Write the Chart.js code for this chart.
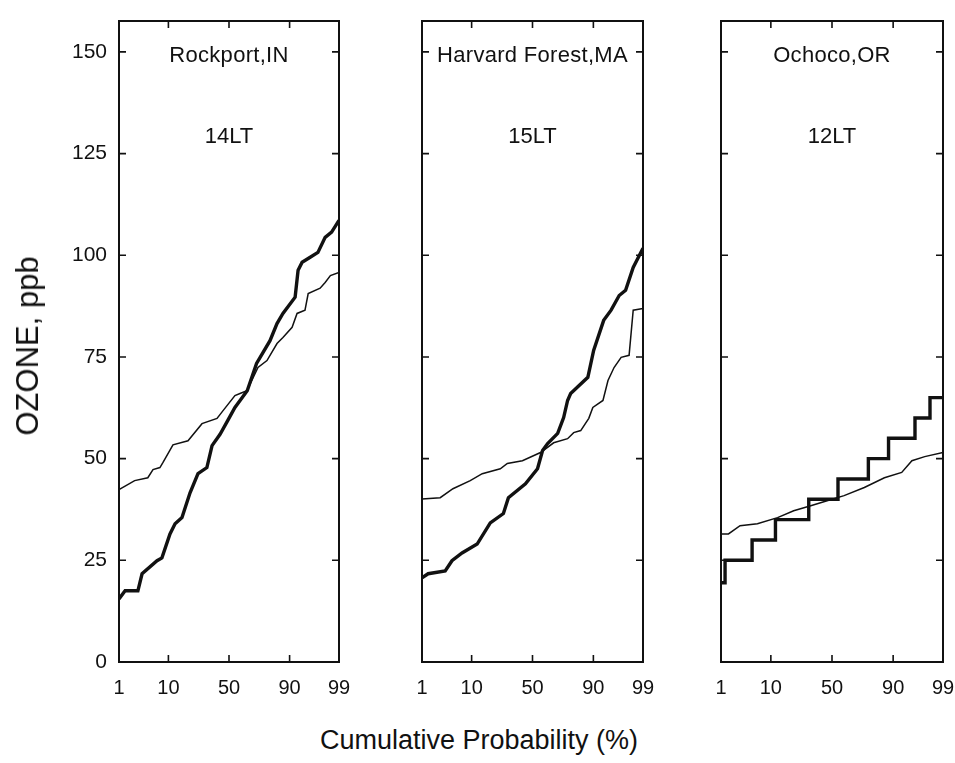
<!DOCTYPE html>
<html>
<head>
<meta charset="utf-8">
<title>Ozone cumulative probability</title>
<script src="https://cdn.jsdelivr.net/npm/chart.js@4.4.0/dist/chart.umd.min.js"></script>
<style>
  html, body { margin: 0; padding: 0; background: #fff; overflow: hidden; }
  body { width: 955px; height: 763px; position: relative; font-family: "Liberation Sans", Arial, Helvetica, sans-serif; color: #111; }
  canvas { position: absolute; top: -10px; }
  .site, .hour { position: absolute; transform: translate(-50%, -50%); white-space: nowrap; }
  .site { font-size: 22px; top: 55px; letter-spacing: 0.3px; }
  .hour { font-size: 22px; top: 136px; }
  #ytitle { position: absolute; left: 28px; top: 346px; font-size: 31px; transform: translate(-50%, -50%) rotate(-90deg); white-space: nowrap; }
  #xtitle { position: absolute; left: 479px; top: 740px; font-size: 27px; transform: translate(-50%, -50%); white-space: nowrap; }
</style>
</head>
<body>
<canvas id="c0" width="369" height="730" style="left:0px"></canvas>
<canvas id="c1" width="281" height="730" style="left:392px"></canvas>
<canvas id="c2" width="282" height="730" style="left:691px"></canvas>
<div id="ytitle">OZONE, ppb</div>
<div id="xtitle">Cumulative Probability (%)</div>

<script>
// axis ticks
const xTickPcts = [1, 10, 50, 90, 99];
const yTicks = [0, 25, 50, 75, 100, 125, 150];
const yMax = 157.6;

// panel labels
const sites = ['Rockport,IN', 'Harvard Forest,MA', 'Ochoco,OR'];
const hours = ['14LT', '15LT', '12LT'];

// Rockport, IN (cumulative probability %, ozone ppb)
const rockThickP = [1, 1.4, 2.7, 3.3, 6.4, 7.8, 10.6, 12.7, 16, 20.5, 25.6, 32, 36, 42.5, 49, 55, 65, 72, 80.7, 84.5, 87.3, 91.9, 92.8, 93.9, 95.7, 97, 97.9, 98.5, 99];
const rockThickV = [15.5, 17.5, 17.5, 21.7, 24.9, 25.6, 31.5, 34, 35.5, 41.6, 46.3, 47.8, 53.2, 56, 59.4, 62.6, 66.7, 73.4, 79, 83.2, 85.7, 89.7, 96.3, 98.3, 99.5, 100.7, 104.4, 105.7, 108.6];
const rockThinP = [1, 2.3, 4.3, 5.4, 7.2, 8.1, 11.8, 19.3, 28.4, 40, 45, 55, 59.2, 64.8, 73, 78.9, 84.5, 87.3, 90.9, 92.5, 94.6, 95.3, 97.3, 97.9, 98.4, 99];
const rockThinV = [42.4, 44.6, 45.3, 47.3, 47.8, 49, 53.4, 54.4, 58.6, 59.9, 61.8, 65.5, 66, 66.7, 72.4, 74.1, 78.3, 79.8, 82.3, 85.7, 86.5, 90.6, 91.9, 93.3, 95, 95.8];

// Harvard Forest, MA
const harvThickP = [1, 1.4, 3.3, 4.5, 6.9, 12.2, 18.7, 27, 30.6, 44.1, 54.2, 58.4, 62.5, 70.2, 74.4, 77, 78.9, 87.8, 90.1, 93.3, 95.1, 96.6, 97.5, 98.3, 99];
const harvThickV = [20.7, 21.7, 22.4, 24.9, 26.8, 29, 34.2, 36.5, 40.4, 43.8, 47.5, 52, 53.7, 56.2, 60.1, 64.3, 66, 70, 76.6, 84, 86.5, 90.1, 91.4, 97, 101.7];
const harvThinP = [1, 2.6, 4.7, 9.5, 14.5, 24.9, 29.8, 41.6, 56.7, 67.2, 77, 80.7, 84.5, 88.2, 89.8, 93.1, 94.4, 95.7, 96.9, 97.9, 98.3, 99];
const harvThinV = [40.1, 40.4, 42.6, 44.6, 46.3, 47.5, 48.8, 49.5, 51.5, 53.9, 54.9, 56.4, 56.9, 59.9, 62.6, 64.3, 69.2, 72.4, 74.9, 75.4, 86.5, 86.9];

// Ochoco, OR (thick curve is in 5 ppb steps)
const ochoThickP = [1, 1.25, 4.7, 11.8, 31.3, 55, 77.7, 88.2, 95.9, 98, 99];
const ochoThickV = [19.5, 25, 30, 35, 40, 45, 50, 55, 60, 65, 65];
const ochoThinP = [1, 1.5, 2.7, 5.9, 12.7, 21.1, 32.8, 46.6, 60, 75.1, 86.4, 92.8, 95.3, 97.4, 99];
const ochoThinV = [31.5, 31.5, 33.5, 34, 35.5, 37.2, 38.4, 39.7, 40.9, 42.9, 45.3, 46.6, 49.5, 50.5, 51.5];

// normal probability axis: percent -> standard normal quantile (Acklam)
function probit(pct) {
  const p = pct / 100;
  const a = [-3.969683028665376e+01, 2.209460984245205e+02, -2.759285104469687e+02, 1.383577518672690e+02, -3.066479806614716e+01, 2.506628277459239e+00];
  const b = [-5.447609879822406e+01, 1.615858368580409e+02, -1.556989798598866e+02, 6.680131188771972e+01, -1.328068155288572e+01];
  const c = [-7.784894002430293e-03, -3.223964580411365e-01, -2.400758277161838e+00, -2.549732539343734e+00, 4.374664141464968e+00, 2.938163982698783e+00];
  const d = [7.784695709041462e-03, 3.224671290700398e-01, 2.445134137142996e+00, 3.754408661907416e+00];
  const pl = 0.02425;
  let q, r;
  if (p < pl) {
    q = Math.sqrt(-2 * Math.log(p));
    return (((((c[0]*q+c[1])*q+c[2])*q+c[3])*q+c[4])*q+c[5]) / ((((d[0]*q+d[1])*q+d[2])*q+d[3])*q+1);
  }
  if (p > 1 - pl) {
    q = Math.sqrt(-2 * Math.log(1 - p));
    return -(((((c[0]*q+c[1])*q+c[2])*q+c[3])*q+c[4])*q+c[5]) / ((((d[0]*q+d[1])*q+d[2])*q+d[3])*q+1);
  }
  q = p - 0.5; r = q * q;
  return (((((a[0]*r+a[1])*r+a[2])*r+a[3])*r+a[4])*r+a[5])*q / (((((b[0]*r+b[1])*r+b[2])*r+b[3])*r+b[4])*r+1);
}

const INK = '#111';
const FONT = '"Liberation Sans", Arial, Helvetica, sans-serif';

// box around plot + inward tick marks on all four sides
const framePlugin = {
  id: 'frame',
  afterDatasetsDraw(chart) {
    const { ctx, chartArea: a, scales: { x, y } } = chart;
    ctx.save();
    ctx.strokeStyle = INK;
    ctx.lineWidth = 2;
    ctx.strokeRect(a.left, a.top, a.right - a.left, a.bottom - a.top);
    ctx.lineWidth = 1.6;
    ctx.beginPath();
    yTicks.forEach(v => {
      const py = y.getPixelForValue(v);
      ctx.moveTo(a.left, py); ctx.lineTo(a.left + 7, py);
      ctx.moveTo(a.right, py); ctx.lineTo(a.right - 7, py);
    });
    xTickPcts.slice(1, -1).forEach(p => {
      const px = x.getPixelForValue(probit(p));
      ctx.moveTo(px, a.bottom); ctx.lineTo(px, a.bottom - 7);
      ctx.moveTo(px, a.top); ctx.lineTo(px, a.top + 7);
    });
    ctx.stroke();
    ctx.restore();
  }
};

function toPoints(ps, vs) {
  return ps.map((p, i) => ({ x: probit(p), y: vs[i] }));
}

function makePanel(idx, series, showY) {
  const canvas = document.getElementById('c' + idx);
  const chart = new Chart(canvas, {
    type: 'line',
    data: {
      datasets: series.map(s => ({
        data: toPoints(s.p, s.v),
        borderColor: INK,
        borderWidth: s.thick ? 3.4 : 1.5,
        pointRadius: 0,
        tension: 0,
        stepped: s.stepped || false,
        fill: false
      }))
    },
    options: {
      responsive: false,
      animation: false,
      devicePixelRatio: 1,
      // canvas sits 10px above the page top, so 31 -> plot top at 21
      layout: { padding: { top: 31, right: 30, bottom: 0, left: showY ? 0 : 30 } },
      plugins: { legend: { display: false }, tooltip: { enabled: false } },
      scales: {
        x: {
          type: 'linear',
          min: probit(xTickPcts[0]),
          max: probit(xTickPcts[xTickPcts.length - 1]),
          afterBuildTicks: sc => { sc.ticks = xTickPcts.map(p => ({ value: probit(p) })); },
          afterFit: sc => { sc.height = 58; },
          grid: { display: false, drawTicks: false },
          border: { display: false },
          ticks: {
            callback: (v, k) => xTickPcts[k],
            padding: 14,
            autoSkip: false,
            maxRotation: 0,
            color: INK,
            font: { family: FONT, size: 20 }
          }
        },
        y: {
          type: 'linear',
          display: showY,
          min: 0,
          max: yMax,
          afterBuildTicks: sc => { sc.ticks = yTicks.map(v => ({ value: v })); },
          afterFit: sc => { if (showY) sc.width = 119; },
          grid: { display: false, drawTicks: false },
          border: { display: false },
          ticks: {
            padding: 12,
            color: INK,
            font: { family: FONT, size: 21 }
          }
        }
      }
    },
    plugins: [framePlugin]
  });

  // site name and local time inside the panel
  const a = chart.chartArea;
  const cx = canvas.offsetLeft + (a.left + a.right) / 2;
  const site = document.createElement('div');
  site.className = 'site';
  site.style.left = cx + 'px';
  site.textContent = sites[idx];
  document.body.appendChild(site);
  const hour = document.createElement('div');
  hour.className = 'hour';
  hour.style.left = cx + 'px';
  hour.textContent = hours[idx];
  document.body.appendChild(hour);
}

makePanel(0, [
  { p: rockThinP, v: rockThinV },
  { p: rockThickP, v: rockThickV, thick: true }
], true);
makePanel(1, [
  { p: harvThinP, v: harvThinV },
  { p: harvThickP, v: harvThickV, thick: true }
], false);
makePanel(2, [
  { p: ochoThinP, v: ochoThinV },
  { p: ochoThickP, v: ochoThickV, thick: true, stepped: true }
], false);
</script>
</body>
</html>
